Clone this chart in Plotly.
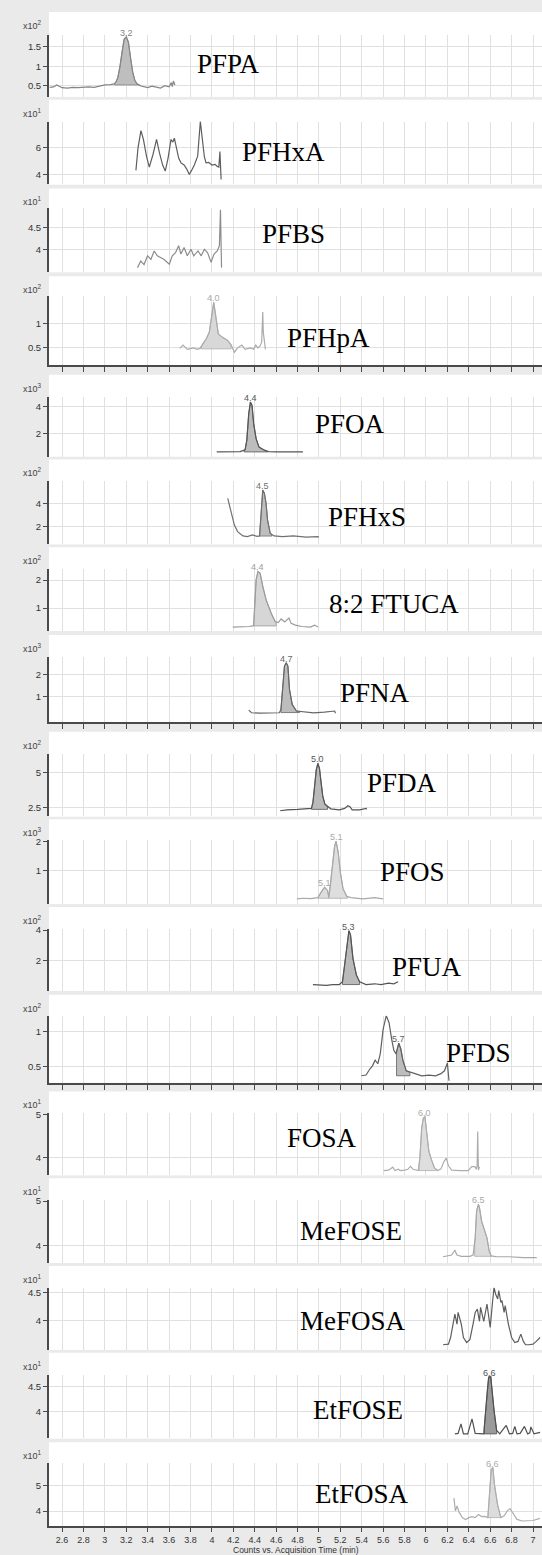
import numpy as np
import plotly.graph_objects as go

W, H = 542, 1555

# ---------------- data ----------------
compounds = ["PFPA", "PFHxA", "PFBS", "PFHpA", "PFOA", "PFHxS", "8:2 FTUCA", "PFNA",
             "PFDA", "PFOS", "PFUA", "PFDS", "FOSA", "MeFOSE", "MeFOSA", "EtFOSE", "EtFOSA"]
exponents = [2, 1, 1, 2, 3, 2, 2, 3, 2, 3, 2, 2, 1, 1, 1, 1, 1]
yticks = [[0.5, 1, 1.5], [4, 6], [4, 4.5], [0.5, 1], [2, 4], [2, 4], [1, 2], [1, 2],
          [2.5, 5], [1, 2], [2, 4], [0.5, 1], [4, 5], [4, 5], [4, 4.5], [4, 4.5], [4, 5]]
x_title = "Counts vs. Acquisition Time (min)"

t_pfpa = [2.485, 2.52, 2.55, 2.60, 2.65, 2.70, 2.75, 2.80, 2.85, 2.90, 2.95, 3.00, 3.05, 3.08, 3.10,
          3.12, 3.14, 3.16, 3.18, 3.20, 3.22, 3.24, 3.26, 3.28, 3.30, 3.33, 3.36, 3.40, 3.44, 3.48,
          3.52, 3.56, 3.60, 3.62, 3.63, 3.64, 3.655]
i_pfpa = [0.46, 0.47, 0.52, 0.45, 0.44, 0.46, 0.45, 0.46, 0.47, 0.46, 0.50, 0.52, 0.53, 0.54, 0.58,
          0.70, 0.98, 1.38, 1.70, 1.76, 1.62, 1.22, 0.85, 0.64, 0.55, 0.50, 0.47, 0.45, 0.49, 0.46,
          0.44, 0.50, 0.47, 0.58, 0.48, 0.62, 0.52]

t_pfhxa = [3.29, 3.31, 3.337, 3.36, 3.39, 3.415, 3.45, 3.483, 3.51, 3.54, 3.564, 3.59, 3.618, 3.635,
           3.649, 3.67, 3.69, 3.711, 3.74, 3.765, 3.789, 3.81, 3.836, 3.867, 3.88, 3.892, 3.905,
           3.914, 3.93, 3.945, 3.97, 4.0, 4.03, 4.05, 4.065, 4.075, 4.08, 4.086]
i_pfhxa = [4.3, 6.0, 7.26, 6.6, 5.3, 4.54, 5.5, 6.6, 5.6, 4.7, 4.25, 5.2, 6.6, 6.4, 6.7, 6.0, 5.2,
           4.86, 4.7, 4.4, 4.0, 4.3, 4.7, 5.36, 6.5, 7.95, 7.0, 6.2, 5.3, 4.86, 4.9, 4.7, 4.75,
           4.6, 4.55, 5.7, 4.4, 3.63]

t_pfbs = [3.305, 3.335, 3.366, 3.399, 3.43, 3.461, 3.49, 3.52, 3.55, 3.602, 3.63, 3.66, 3.689, 3.71,
          3.74, 3.77, 3.805, 3.83, 3.87, 3.90, 3.93, 3.96, 3.992, 4.02, 4.05, 4.07, 4.08, 4.09]
i_pfbs = [3.58, 3.73, 3.65, 3.85, 3.77, 3.96, 3.85, 3.81, 3.77, 3.66, 3.85, 3.92, 4.08, 3.89,
          4.04, 3.85, 4.0, 3.85, 3.96, 3.85, 4.0, 3.92, 3.70, 3.89, 3.96, 4.08, 4.90, 3.58]

t_pfhpa = [3.70, 3.73, 3.77, 3.80, 3.83, 3.86, 3.89, 3.914, 3.95, 3.976, 4.0, 4.017, 4.04, 4.06,
           4.10, 4.15, 4.18, 4.21, 4.24, 4.28, 4.31, 4.36, 4.39, 4.41, 4.43, 4.45, 4.465, 4.475,
           4.48, 4.49, 4.50]
i_pfhpa = [0.49, 0.56, 0.47, 0.48, 0.50, 0.47, 0.49, 0.58, 0.70, 0.83, 1.25, 1.45, 1.10, 0.79,
           0.72, 0.65, 0.56, 0.41, 0.50, 0.56, 0.47, 0.50, 0.47, 0.56, 0.50, 0.54, 0.62, 1.25,
           0.83, 0.56, 0.47]

t_pfoa = [4.045, 4.10, 4.15, 4.20, 4.264, 4.31, 4.326, 4.344, 4.36, 4.375, 4.39, 4.413, 4.44,
          4.49, 4.53, 4.60, 4.66, 4.75, 4.85]
i_pfoa = [0.64, 0.65, 0.63, 0.64, 0.66, 0.80, 1.50, 3.48, 4.35, 4.10, 2.74, 1.63, 1.00, 0.77,
          0.66, 0.64, 0.65, 0.63, 0.64]

t_pfhxs = [4.148, 4.18, 4.21, 4.24, 4.29, 4.33, 4.38, 4.42, 4.445, 4.46, 4.475, 4.49, 4.506,
           4.52, 4.545, 4.58, 4.66, 4.76, 4.82, 4.88, 4.99, 5.0]
i_pfhxs = [4.43, 3.13, 2.11, 1.54, 1.16, 1.10, 1.25, 1.12, 1.16, 3.13, 5.16, 4.90, 4.00, 2.55,
           1.39, 1.16, 1.10, 1.16, 1.10, 1.05, 1.10, 1.05]

t_ftuca = [4.195, 4.25, 4.30, 4.35, 4.39, 4.398, 4.413, 4.43, 4.45, 4.475, 4.506, 4.553, 4.59,
           4.62, 4.647, 4.68, 4.72, 4.74, 4.78, 4.84, 4.92, 4.96, 4.99]
i_ftuca = [0.32, 0.33, 0.32, 0.34, 0.37, 1.06, 2.01, 2.31, 2.25, 1.78, 1.30, 0.82, 0.52, 0.48,
           0.61, 0.50, 0.64, 0.45, 0.39, 0.34, 0.32, 0.39, 0.32]

t_pfna = [4.344, 4.37, 4.45, 4.55, 4.63, 4.645, 4.663, 4.678, 4.694, 4.71, 4.725, 4.75, 4.79,
          4.87, 4.95, 5.05, 5.147, 5.155]
i_pfna = [0.39, 0.27, 0.25, 0.27, 0.27, 0.42, 1.33, 2.40, 2.55, 2.40, 1.33, 0.65, 0.35, 0.30,
          0.27, 0.30, 0.35, 0.25]

t_pfda = [4.638, 4.70, 4.80, 4.88, 4.93, 4.944, 4.96, 4.975, 4.99, 5.005, 5.02, 5.035, 5.055,
          5.08, 5.11, 5.19, 5.24, 5.27, 5.29, 5.31, 5.38, 5.44, 5.445]
i_pfda = [2.26, 2.33, 2.36, 2.40, 2.43, 2.86, 4.05, 5.20, 5.65, 5.30, 4.29, 3.34, 2.74, 2.56,
          2.40, 2.33, 2.43, 2.62, 2.55, 2.33, 2.33, 2.43, 2.36]

t_pfos = [4.794, 4.85, 4.92, 4.99, 5.02, 5.053, 5.08, 5.093, 5.11, 5.131, 5.147, 5.16, 5.18,
          5.20, 5.225, 5.26, 5.30, 5.41, 5.52, 5.60]
i_pfos = [0.01, 0.03, 0.02, 0.05, 0.24, 0.41, 0.30, 0.08, 0.59, 1.39, 1.85, 2.00, 1.62, 0.93,
          0.36, 0.10, 0.05, 0.01, 0.05, 0.01]

t_pfua = [4.944, 5.00, 5.07, 5.13, 5.19, 5.22, 5.24, 5.262, 5.28, 5.295, 5.318, 5.35, 5.38,
          5.44, 5.52, 5.58, 5.65, 5.70, 5.74]
i_pfua = [0.47, 0.45, 0.42, 0.47, 0.47, 0.65, 1.72, 3.20, 3.95, 3.68, 2.15, 1.08, 0.65, 0.47,
          0.52, 0.47, 0.56, 0.52, 0.65]

t_pfds = [5.396, 5.42, 5.44, 5.476, 5.50, 5.525, 5.55, 5.573, 5.60, 5.629, 5.655, 5.68, 5.70,
          5.72, 5.746, 5.765, 5.784, 5.816, 5.85, 5.898, 5.96, 6.03, 6.09, 6.14, 6.173, 6.20, 6.215]
i_pfds = [0.37, 0.38, 0.38, 0.465, 0.51, 0.59, 0.54, 0.68, 1.03, 1.22, 1.12, 0.88, 0.73, 0.68,
          0.83, 0.75, 0.59, 0.44, 0.42, 0.40, 0.37, 0.38, 0.37, 0.40, 0.44, 0.55, 0.30]

t_fosa = [5.606, 5.65, 5.69, 5.71, 5.74, 5.76, 5.80, 5.83, 5.855, 5.88, 5.928, 5.943, 5.96, 5.975,
          5.99, 6.006, 6.027, 6.05, 6.08, 6.11, 6.14, 6.168, 6.19, 6.21, 6.24, 6.32, 6.395, 6.427,
          6.458, 6.47, 6.478, 6.483, 6.49, 6.50]
i_fosa = [3.69, 3.70, 3.77, 3.69, 3.72, 3.69, 3.70, 3.72, 3.79, 3.72, 3.69, 3.98, 4.68, 4.91,
          4.95, 4.60, 4.14, 3.95, 3.75, 3.69, 3.73, 3.90, 3.98, 3.80, 3.70, 3.69, 3.69, 3.78,
          3.78, 3.72, 3.80, 4.60, 3.70, 3.78]

t_mefose = [6.16, 6.20, 6.24, 6.254, 6.27, 6.29, 6.33, 6.41, 6.44, 6.46, 6.473, 6.49, 6.50, 6.52,
            6.54, 6.57, 6.59, 6.61, 6.66, 6.78, 6.91, 7.035]
i_mefose = [3.76, 3.78, 3.80, 3.85, 3.90, 3.80, 3.77, 3.77, 3.80, 4.18, 4.78, 4.93, 4.85, 4.55,
            4.40, 4.18, 3.89, 3.78, 3.76, 3.76, 3.74, 3.74]

t_mefosa = [6.16, 6.21, 6.23, 6.25, 6.27, 6.29, 6.30, 6.33, 6.35, 6.38, 6.41, 6.44, 6.46, 6.48,
            6.50, 6.51, 6.54, 6.57, 6.58, 6.60, 6.62, 6.636, 6.65, 6.67, 6.68, 6.70, 6.71, 6.73,
            6.74, 6.77, 6.80, 6.83, 6.86, 6.886, 6.91, 6.93, 6.96, 7.00, 7.03, 7.066]
i_mefosa = [3.57, 3.58, 3.70, 3.94, 4.12, 3.94, 4.15, 3.94, 3.70, 3.61, 3.66, 3.94, 4.15, 4.21,
            3.99, 4.24, 3.99, 4.30, 4.12, 3.88, 4.30, 4.60, 4.48, 4.39, 4.54, 4.33, 4.36, 4.15,
            4.27, 3.94, 3.70, 3.61, 3.63, 3.76, 3.63, 3.57, 3.57, 3.58, 3.63, 3.70]

t_etfose = [6.27, 6.30, 6.327, 6.35, 6.39, 6.41, 6.43, 6.46, 6.50, 6.54, 6.573, 6.586, 6.605,
            6.617, 6.636, 6.66, 6.69, 6.72, 6.75, 6.78, 6.81, 6.83, 6.85, 6.88, 6.92, 6.95, 6.97,
            6.98, 7.01, 7.066]
i_etfose = [3.55, 3.56, 3.75, 3.55, 3.55, 3.69, 3.85, 3.56, 3.55, 3.55, 4.42, 4.69, 4.70, 4.42,
            4.02, 3.62, 3.55, 3.64, 3.72, 3.55, 3.56, 3.70, 3.55, 3.56, 3.70, 3.55, 3.57, 3.69,
            3.55, 3.58]

t_etfosa = [6.261, 6.275, 6.29, 6.31, 6.34, 6.37, 6.40, 6.43, 6.46, 6.49, 6.52, 6.55, 6.578,
            6.59, 6.61, 6.625, 6.64, 6.67, 6.70, 6.73, 6.76, 6.785, 6.81, 6.83, 6.85, 6.90, 6.95,
            7.00, 7.064]
i_etfosa = [4.50, 4.01, 4.20, 3.95, 3.75, 3.68, 3.75, 3.79, 3.75, 3.87, 3.79, 3.80, 3.75, 4.48,
            5.61, 5.68, 5.01, 4.22, 3.75, 3.82, 4.01, 4.10, 3.95, 3.82, 3.68, 3.62, 3.62, 3.64, 3.72]

series = [(t_pfpa, i_pfpa), (t_pfhxa, i_pfhxa), (t_pfbs, i_pfbs), (t_pfhpa, i_pfhpa),
          (t_pfoa, i_pfoa), (t_pfhxs, i_pfhxs), (t_ftuca, i_ftuca), (t_pfna, i_pfna),
          (t_pfda, i_pfda), (t_pfos, i_pfos), (t_pfua, i_pfua), (t_pfds, i_pfds),
          (t_fosa, i_fosa), (t_mefose, i_mefose), (t_mefosa, i_mefosa), (t_etfose, i_etfose),
          (t_etfosa, i_etfosa)]

# integrated peak windows: (start, end, baseline)
peak_windows = [[(3.09, 3.33, 0.52)], [], [], [(3.90, 4.18, 0.48)], [(4.30, 4.52, 0.64)],
                [(4.44, 4.56, 1.15)], [(4.39, 4.60, 0.36)], [(4.645, 4.82, 0.28)],
                [(4.93, 5.08, 2.36)], [(4.99, 5.093, 0.03), (5.093, 5.27, 0.03)],
                [(5.22, 5.38, 0.47)], [(5.725, 5.85, 0.37)], [(5.935, 6.10, 3.69)],
                [(6.455, 6.61, 3.77)], [], [(6.545, 6.66, 3.55)], [(6.578, 6.70, 3.75)]]
# retention-time labels: (rt, text)
peak_labels = [[(3.20, "3.2")], [], [], [(4.017, "4.0")], [(4.36, "4.4")], [(4.475, "4.5")],
               [(4.43, "4.4")], [(4.694, "4.7")], [(4.99, "5.0")],
               [(5.053, "5.1"), (5.16, "5.1")], [(5.28, "5.3")], [(5.746, "5.7")],
               [(5.99, "6.0")], [(6.49, "6.5")], [], [(6.595, "6.6")], [(6.625, "6.6")]]

# ---------------- layout / style ----------------
# panel geometry in px: (white top, spine top, bottom, px of first ytick, px of last ytick)
panel_px = [(7, 30, 92, 81, 42), (95, 117, 180, 170, 143), (184, 204, 268, 245, 223),
            (272, 292, 361, 344, 320), (371, 393, 453, 430, 403), (456, 478, 541, 523, 500),
            (544, 566, 628, 605, 577), (632, 654, 719, 694, 672), (729, 751, 814, 805, 770),
            (817, 838, 902, 868, 839), (905, 927, 989, 959, 928), (993, 1014, 1081, 1065, 1029.5),
            (1090, 1112, 1174, 1156, 1113), (1177, 1199, 1262, 1245, 1200),
            (1265, 1287, 1349, 1320, 1292), (1352, 1374, 1438, 1411, 1386),
            (1442, 1463, 1526, 1511, 1485)]
axis_panels = {3, 7, 11, 16}
name_px = [(195, 59), (240, 147), (260, 230), (285, 334), (313, 420), (326, 514), (327, 601),
           (338, 690), (365, 781), (378, 870), (390, 965), (444, 1051), (285, 1137),
           (298, 1230), (298, 1320), (311, 1410), (313, 1494)]
line_colors = ['#858585', '#5e5e5e', '#8c8c8c', '#ababab', '#555555', '#707070', '#9c9c9c',
               '#666666', '#555555', '#a8a8a8', '#555555', '#606060', '#adadad', '#a8a8a8',
               '#5e5e5e', '#505050', '#adadad']
fill_colors = ['#bebebe', None, None, '#d8d8d8', '#bdbdbd', '#bebebe', '#d6d6d6', '#bdbdbd',
               '#bababa', '#dedede', '#bababa', '#bcbcbc', '#dedede', '#dcdcdc', None,
               '#9a9a9a', '#dcdcdc']

XL = 49 / W
XRANGE = [2.478, 7.084]
GRID = '#e0e0e0'
AX = '#4a4a4a'
TICKFONT = dict(family="Liberation Sans, Arial", size=9.5, color="#333333")
XTICKFONT = dict(family="Liberation Sans, Arial", size=9, color="#333333")


def pap(p):
    return 1 - p / H


fig = go.Figure()
layout = dict(width=W, height=H, margin=dict(l=0, r=0, t=0, b=0),
              paper_bgcolor='#eaeaea', plot_bgcolor='white', showlegend=False,
              shapes=[], annotations=[])

for k in range(17):
    n = k + 1
    xa = 'x' if n == 1 else f'x{n}'
    ya = 'y' if n == 1 else f'y{n}'
    top, stop, bot, plo, phi = panel_px[k]
    tv = yticks[k]
    upp = (tv[-1] - tv[0]) / (plo - phi)
    ymin = tv[0] - (bot - plo) * upp
    ymax = tv[-1] + (phi - stop) * upp

    layout['shapes'].append(dict(type='rect', xref='paper', yref='paper', x0=XL, x1=1,
                                 y0=pap(bot), y1=pap(top), fillcolor='white',
                                 line=dict(width=0), layer='below'))
    is_axis = k in axis_panels
    xdict = dict(domain=[XL, 1], anchor=ya, range=XRANGE, tick0=2.6, dtick=0.2,
                 showgrid=True, gridcolor=GRID, gridwidth=1, zeroline=False,
                 showline=is_axis, linecolor=AX, linewidth=2,
                 ticks='outside' if is_axis else '', ticklen=4 if k == 16 else 5,
                 tickcolor=AX, tickwidth=1,
                 showticklabels=(k == 16), tickfont=XTICKFONT, fixedrange=True)
    if n > 1:
        xdict['matches'] = 'x'
    layout['xaxis' if n == 1 else f'xaxis{n}'] = xdict
    layout['yaxis' if n == 1 else f'yaxis{n}'] = dict(
        domain=[pap(bot), pap(stop)], anchor=xa, range=[ymin, ymax],
        tickmode='array', tickvals=tv, ticktext=[f"{v:g}" for v in tv],
        ticks='outside', ticklen=4, tickcolor=AX, tickwidth=1,
        showline=True, linecolor=AX, linewidth=2, showgrid=True, gridcolor=GRID,
        zeroline=False, tickfont=TICKFONT, fixedrange=True)

    t = np.array(series[k][0], dtype=float)
    y = np.array(series[k][1], dtype=float)
    for (xs, xe, base) in peak_windows[k]:
        m = (t > xs) & (t < xe)
        y_s = float(np.interp(xs, t, y))
        y_e = float(np.interp(xe, t, y))
        px = [xs] + list(t[m]) + [xe, xe, xs, xs]
        py = [y_s] + list(y[m]) + [y_e, base, base, y_s]
        fig.add_trace(go.Scatter(x=px, y=py, xaxis=xa, yaxis=ya, mode='lines', fill='toself',
                                 fillcolor=fill_colors[k],
                                 line=dict(color=line_colors[k], width=0.8), hoverinfo='skip'))
    fig.add_trace(go.Scatter(x=t, y=y, xaxis=xa, yaxis=ya, mode='lines',
                             line=dict(color=line_colors[k], width=1.2), hoverinfo='skip'))

    for (rt, txt) in peak_labels[k]:
        layout['annotations'].append(dict(x=rt, y=float(np.interp(rt, t, y)), xref=xa, yref=ya,
                                          text=txt, showarrow=False, yanchor='bottom', yshift=-3,
                                          font=dict(family="Liberation Sans, Arial", size=9,
                                                    color=line_colors[k])))
    # multiplier label
    layout['annotations'].append(dict(x=21 / W, y=pap(top + 13), xref='paper', yref='paper',
                                      text=f"x10<sup>{exponents[k]}</sup>", showarrow=False,
                                      xanchor='left', yanchor='middle',
                                      font=dict(family="Liberation Sans, Arial", size=9,
                                                color="#444444")))
    # compound name
    nx, ny = name_px[k]
    layout['annotations'].append(dict(x=nx / W, y=pap(ny), xref='paper', yref='paper',
                                      text=compounds[k], showarrow=False, xanchor='left',
                                      yanchor='middle',
                                      font=dict(family="Liberation Serif, Times New Roman",
                                                size=27, color="black")))

layout['annotations'].append(dict(x=(XL + 1) / 2, y=pap(1549.5), xref='paper', yref='paper',
                                  text=x_title, showarrow=False, xanchor='center',
                                  yanchor='middle',
                                  font=dict(family="Liberation Sans, Arial", size=8.5,
                                            color="#333333")))

fig.update_layout(**layout)
fig.write_html("out.html")
